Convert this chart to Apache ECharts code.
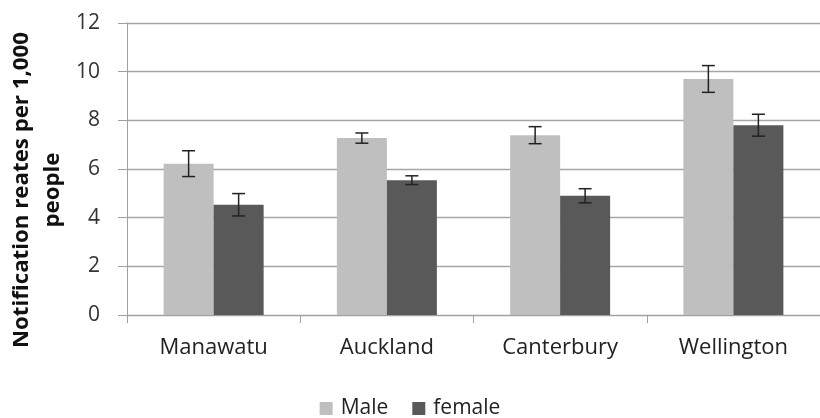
<!DOCTYPE html>
<html><head><meta charset="utf-8">
<script src="https://cdn.jsdelivr.net/npm/echarts@6/dist/echarts.min.js"></script>
<style>html,body{margin:0;padding:0;background:#fff}#c{width:820px;height:418px}</style>
</head><body><div id="c"></div>
<script>
const categories = ['Manawatu', 'Auckland', 'Canterbury', 'Wellington'];
const maleValues = [6.22, 7.27, 7.39, 9.70];
const maleErrors = [0.53, 0.21, 0.35, 0.55];
const femaleValues = [4.53, 5.54, 4.90, 7.80];
const femaleErrors = [0.46, 0.18, 0.29, 0.45];
const yTicks = [0, 2, 4, 6, 8, 10, 12];

const FONT = 'Open Sans';
const chart = echarts.init(document.getElementById('c'));

function errSeries(name, values, errors, offset) {
  return {
    type: 'custom', name: name + ' err', silent: true, z: 10,
    data: values.map((v, i) => [i, v - errors[i], v + errors[i]]),
    renderItem: function (params, api) {
      const lo = api.coord([api.value(0), api.value(1)]);
      const hi = api.coord([api.value(0), api.value(2)]);
      const x = lo[0] + offset;
      const hw = 6.5;
      const st = {stroke: '#222', lineWidth: 1.5};
      return {type: 'group', children: [
        {type: 'line', shape: {x1: x, y1: lo[1], x2: x, y2: hi[1]}, style: st},
        {type: 'line', shape: {x1: x - hw, y1: lo[1], x2: x + hw, y2: lo[1]}, style: st},
        {type: 'line', shape: {x1: x - hw, y1: hi[1], x2: x + hw, y2: hi[1]}, style: st}
      ]};
    }
  };
}

chart.setOption({
  animation: false,
  grid: {left: 127, right: -9, top: 23, bottom: 103},
  legend: {
    data: ['Male', 'female'], top: 393, left: 'center', icon: 'rect',
    itemWidth: 13, itemHeight: 13, itemGap: 24,
    textStyle: {fontFamily: FONT, fontSize: 21, color: '#222', padding: [0, 0, 0, 3]}
  },
  xAxis: {
    type: 'category', data: categories,
    axisLine: {lineStyle: {color: '#a0a0a0', width: 1}},
    axisTick: {show: true, length: 8, lineStyle: {color: '#a0a0a0'}},
    axisLabel: {fontFamily: FONT, fontSize: 22, color: '#222', margin: 22}
  },
  yAxis: {
    type: 'value', min: 0, max: 12, interval: 2,
    axisLine: {show: true, lineStyle: {color: '#a0a0a0', width: 1}},
    axisTick: {show: true, length: 9, lineStyle: {color: '#a0a0a0'}},
    axisLabel: {fontFamily: FONT, fontSize: 21, color: '#333', margin: 27,
      formatter: v => yTicks.includes(v) ? String(v) : ''},
    splitLine: {lineStyle: {color: '#a6a6a6', width: 1.3}}
  },
  graphic: [{
    type: 'text', x: 38, y: 190, rotation: Math.PI / 2, scaleX: 1.06,
    style: {text: 'Notification reates per 1,000\npeople', fontFamily: FONT, fontWeight: 'bold',
      fontSize: 21, lineHeight: 31, fill: '#111', align: 'center', verticalAlign: 'middle'}
  }],
  series: [
    {name: 'Male', type: 'bar', data: maleValues, barWidth: 50, barGap: '0%',
      itemStyle: {color: '#bfbfbf'}},
    {name: 'female', type: 'bar', data: femaleValues, barWidth: 50, barGap: '0%',
      itemStyle: {color: '#595959'}},
    errSeries('Male', maleValues, maleErrors, -25),
    errSeries('female', femaleValues, femaleErrors, 25)
  ]
});
</script></body></html>
